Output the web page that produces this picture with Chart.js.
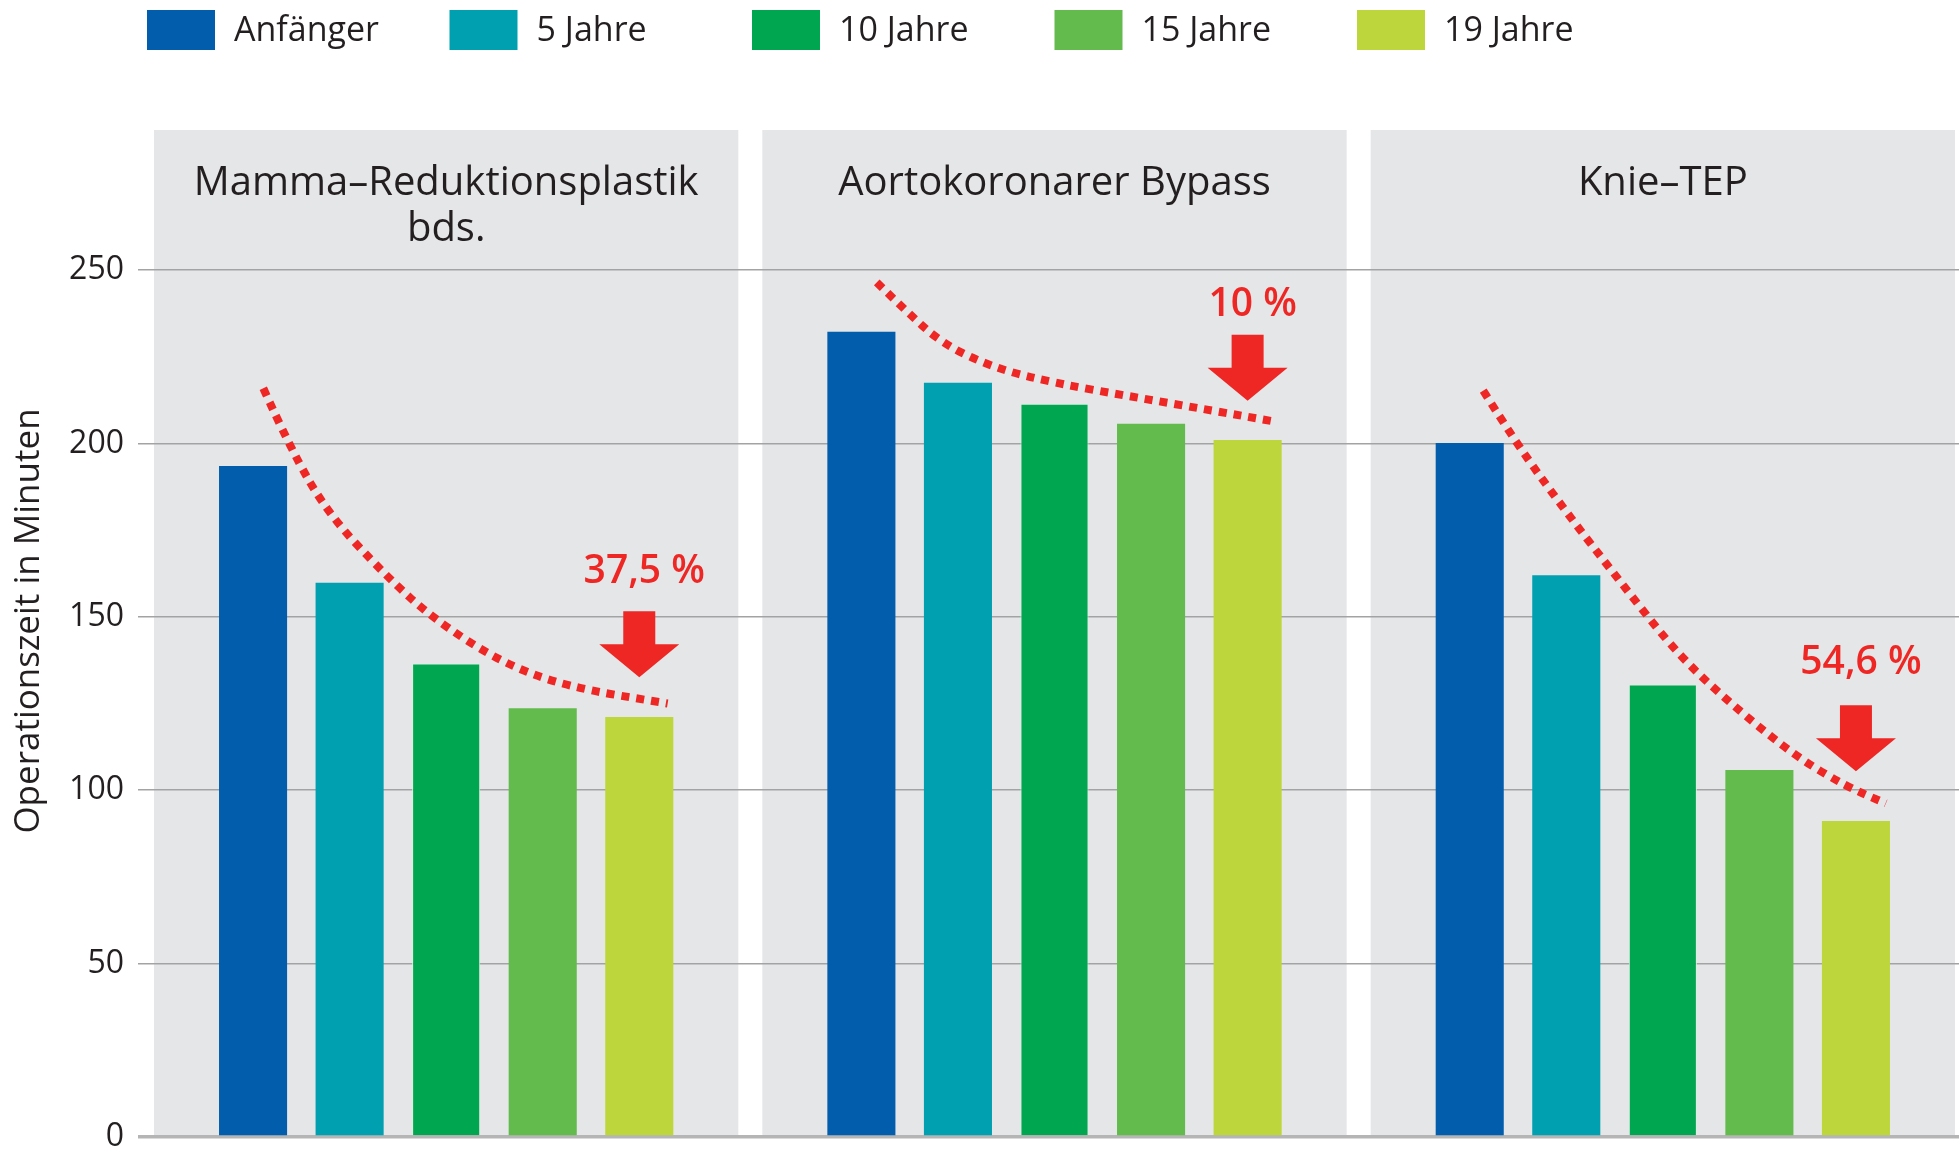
<!DOCTYPE html>
<html>
<head>
<meta charset="utf-8">
<script src="https://cdn.jsdelivr.net/npm/chart.js@4"></script>
<style>
  html, body { margin: 0; padding: 0; background: #fff; overflow: hidden; }
  #wrap { width: 1970px; height: 1151px; }
</style>
</head>
<body>
<div id="wrap"><canvas id="opChart" width="1970" height="1151"></canvas></div>
<script>
// Eingriffe (Panels)
var categories = [['Mamma–Reduktionsplastik', 'bds.'], ['Aortokoronarer Bypass'], ['Knie–TEP']];
var seriesNames = ['Anfänger', '5 Jahre', '10 Jahre', '15 Jahre', '19 Jahre'];
var seriesColors = ['#025eac', '#00a0b0', '#00a650', '#62bb4c', '#bdd63b'];

// Operationszeit in Minuten
var anfaenger = [193.5, 232.2, 200.1];
var jahre5 = [159.8, 217.5, 162.0];
var jahre10 = [136.5, 211.4, 130.5];
var jahre15 = [123.6, 205.7, 105.8];
var jahre19 = [121.1, 201.0, 91.1];

var yTicks = [0, 50, 100, 150, 200, 250];

// Trendkurven: Lage in Balken-Einheiten (0 = Anfänger, 4 = 19 Jahre) und Wert
var trendPosMamma = [0.106, 0.379, 0.775, 1.370, 1.865, 2.560, 3.254, 4.294];
var trendValMamma = [215.9, 199.0, 179.8, 162.0, 149.5, 137.0, 129.8, 125.0];
var trendPosBypass = [0.159, 0.436, 0.833, 1.388, 2.023, 2.816, 3.609, 4.303];
var trendValBypass = [246.4, 238.9, 228.8, 221.6, 217.3, 213.4, 209.6, 206.2];
var trendPosKnie = [0.140, 0.482, 1.010, 1.574, 2.177, 2.781, 3.385, 3.908, 4.310];
var trendValKnie = [215.2, 200.0, 179.8, 159.6, 138.4, 123.1, 109.6, 101.0, 96.2];

// Rückgang-Hinweise
var dropLabels = ['37,5 %', '10 %', '54,6 %'];
var dropLabelValue = [163, 240, 136.6];
var dropArrowTip = [132.6, 212.3, 105.5];

var seriesData = [anfaenger, jahre5, jahre10, jahre15, jahre19];
var trendPos = [trendPosMamma, trendPosBypass, trendPosKnie];
var trendVal = [trendValMamma, trendValBypass, trendValKnie];
var textColor = '#231f20';
var red = '#ee2724';

var panelsPlugin = {
    id: 'panels',
    beforeDraw: function(chart) {
        var ctx = chart.ctx, x = chart.scales.x, area = chart.chartArea;
        var w = (area.right - area.left) / categories.length;
        ctx.save();
        ctx.fillStyle = '#e5e6e8';
        categories.forEach(function(c, i) {
            var cx = x.getPixelForValue(i);
            ctx.fillRect(cx - w / 2 + 12, area.top - 140, w - 24, area.bottom - area.top + 140);
        });
        ctx.fillStyle = textColor;
        ctx.font = '40px "Open Sans"';
        ctx.textAlign = 'center';
        ctx.textBaseline = 'middle';
        categories.forEach(function(lines, i) {
            var cx = x.getPixelForValue(i);
            lines.forEach(function(t, j) {
                ctx.fillText(t, cx, area.top - 86 + j * 46);
            });
        });
        ctx.restore();
    },
    afterDraw: function(chart) {
        var ctx = chart.ctx;
        ctx.save();
        // Legende
        ctx.textBaseline = 'middle';
        ctx.textAlign = 'left';
        ctx.font = '34px "Open Sans"';
        seriesNames.forEach(function(n, i) {
            var lx = 147 + i * 302.5;
            ctx.fillStyle = seriesColors[i];
            ctx.fillRect(lx, 10, 68, 40);
            ctx.fillStyle = textColor;
            ctx.fillText(n, lx + 87, 31);
        });
        // Achsentitel
        ctx.translate(29, 621);
        ctx.rotate(-Math.PI / 2);
        ctx.textAlign = 'center';
        ctx.font = '35px "Open Sans"';
        ctx.fillText('Operationszeit in Minuten', 0, 0);
        ctx.restore();
    },
    afterDatasetsDraw: function(chart) {
        var ctx = chart.ctx, y = chart.scales.y;
        var first = chart.getDatasetMeta(0), second = chart.getDatasetMeta(1);
        var meta = chart.getDatasetMeta(4);
        ctx.save();
        // gepunktete Trendkurven
        ctx.strokeStyle = red;
        ctx.lineWidth = 8;
        ctx.setLineDash([8, 7]);
        trendPos.forEach(function(pos, g) {
            var x0 = first.data[g].x, step = second.data[g].x - x0;
            var pts = pos.map(function(u, k) {
                return { x: x0 + u * step, y: y.getPixelForValue(trendVal[g][k]) };
            });
            ctx.beginPath();
            ctx.moveTo(pts[0].x, pts[0].y);
            for (var k = 1; k < pts.length - 1; k++) {
                var mx = (pts[k].x + pts[k + 1].x) / 2, my = (pts[k].y + pts[k + 1].y) / 2;
                ctx.quadraticCurveTo(pts[k].x, pts[k].y, mx, my);
            }
            var last = pts[pts.length - 1];
            ctx.lineTo(last.x, last.y);
            ctx.stroke();
        });
        ctx.setLineDash([]);
        // Prozentangaben und Pfeile
        ctx.fillStyle = red;
        ctx.textAlign = 'center';
        ctx.textBaseline = 'middle';
        ctx.font = '600 39px "Open Sans"';
        dropLabels.forEach(function(t, i) {
            var bx = meta.data[i].x;
            ctx.fillText(t, bx + 5, y.getPixelForValue(dropLabelValue[i]));
            var tip = y.getPixelForValue(dropArrowTip[i]);
            ctx.beginPath();
            ctx.moveTo(bx - 16, tip - 66);
            ctx.lineTo(bx + 16, tip - 66);
            ctx.lineTo(bx + 16, tip - 33);
            ctx.lineTo(bx + 40, tip - 33);
            ctx.lineTo(bx, tip);
            ctx.lineTo(bx - 40, tip - 33);
            ctx.lineTo(bx - 16, tip - 33);
            ctx.closePath();
            ctx.fill();
        });
        ctx.restore();
    }
};

var datasets = seriesNames.map(function(name, i) {
    return {
        label: name,
        data: seriesData[i],
        stack: 's' + i,
        backgroundColor: seriesColors[i],
        borderColor: i === 2 ? '#d9efe2' : seriesColors[i],
        borderWidth: i === 2 ? 1 : 0
    };
});

var ctx = document.getElementById('opChart').getContext('2d');
var opChart = new Chart(ctx, {
    type: 'bar',
    data: {
        labels: categories.map(function(c) { return c.join(' '); }),
        datasets: datasets
    },
    options: {
        responsive: false,
        animation: false,
        events: [],
        layout: { padding: { top: 270, bottom: 14, left: 0, right: 3 } },
        datasets: { bar: { categoryPercentage: 0.7936, barPercentage: 0.705 } },
        plugins: {
            legend: { display: false },
            tooltip: { enabled: false }
        },
        scales: {
            x: { display: false },
            y: {
                min: 0,
                max: 250,
                afterBuildTicks: function(s) { s.ticks = yTicks.map(function(v) { return { value: v }; }); },
                afterFit: function(s) { s.width = 142; s.paddingTop = 0; s.paddingBottom = 0; },
                border: { display: false },
                grid: {
                    color: function(c) { return c.tick && c.tick.value === 0 ? '#b5b5b5' : '#a3a3a3'; },
                    lineWidth: function(c) { return c.tick && c.tick.value === 0 ? 3.5 : 1.5; },
                    tickLength: 4
                },
                ticks: {
                    padding: 14,
                    color: textColor,
                    font: { family: 'Open Sans', size: 32 }
                }
            }
        }
    },
    plugins: [panelsPlugin]
});
</script>
</body>
</html>
